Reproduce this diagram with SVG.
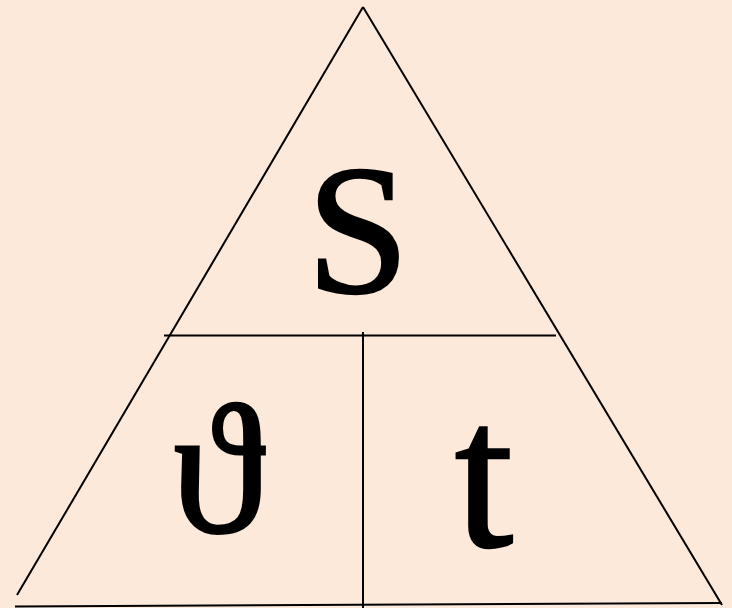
<svg xmlns="http://www.w3.org/2000/svg" width="732" height="608" viewBox="0 0 732 608">
<style>
.ln{stroke:#000;stroke-width:2;fill:none;stroke-linecap:butt}
.tx{font-family:"Liberation Serif","Times New Roman",serif;fill:#000;stroke:#000;stroke-width:2.5;text-anchor:middle}
</style>
<rect width="732" height="608" fill="#FDE9D9"/>
<g id="connectors">
<line class="ln" x1="17" y1="595" x2="363" y2="7"/>
<line class="ln" x1="363" y1="7" x2="722" y2="605"/>
<line class="ln" x1="15" y1="606.5" x2="722" y2="603"/>
<line class="ln" x1="164" y1="335.5" x2="556" y2="335.5"/>
<line class="ln" x1="363" y1="332" x2="363" y2="608"/>
</g>
<g id="node-s"><text class="tx" x="358" y="292" font-size="184">S</text></g>
<g id="node-v"><text class="tx" transform="translate(226,532) skewX(10)" x="0" y="0" font-size="186" font-style="italic" stroke-width="4">ϑ</text></g>
<g id="node-t"><text class="tx" x="484" y="546" font-size="210">t</text></g>
</svg>
